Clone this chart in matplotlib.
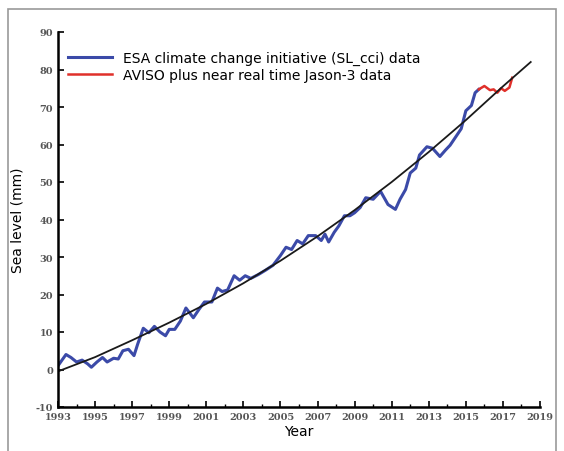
import matplotlib.pyplot as plt
from matplotlib.patches import Rectangle

plt.rcParams["axes.unicode_minus"] = False

esa_years = [1993.0, 1993.43, 1993.7, 1994.0, 1994.3, 1994.6, 1994.8, 1995.1, 1995.4, 1995.65,
             1996.0, 1996.25, 1996.5, 1996.8, 1997.1, 1997.3, 1997.6, 1997.9, 1998.2, 1998.5,
             1998.8, 1999.0, 1999.3, 1999.6, 1999.9, 2000.3, 2000.6, 2000.9, 2001.3, 2001.6,
             2001.85, 2002.15, 2002.5, 2002.8, 2003.1, 2003.4, 2003.8, 2004.2, 2004.6, 2005.0,
             2005.3, 2005.6, 2005.9, 2006.2, 2006.5, 2006.9, 2007.2, 2007.4, 2007.6, 2007.9,
             2008.15, 2008.45, 2008.75, 2009.0, 2009.3, 2009.6, 2010.0, 2010.4, 2010.8, 2011.2,
             2011.45, 2011.75, 2012.0, 2012.3, 2012.5, 2012.9, 2013.2, 2013.6, 2013.9, 2014.15,
             2014.45, 2014.75, 2015.0, 2015.3, 2015.5, 2015.7]
esa_level = [1, 4, 3.2, 2, 2.5, 1.5, 0.6, 2, 3.2, 2,
             3, 2.8, 5, 5.4, 3.7, 6.8, 11, 9.8, 11.5, 10,
             9, 10.7, 10.7, 12.9, 16.4, 13.8, 16, 18, 18, 21.7,
             20.8, 21.2, 25, 23.8, 25, 24.3, 25.3, 26.5, 27.8, 30.4,
             32.6, 32, 34.4, 33.5, 35.7, 35.7, 34.4, 36.1, 34, 36.6,
             38.3, 41, 41, 41.8, 43.2, 45.8, 45.4, 47.5, 44, 42.7,
             45.4, 48, 52.4, 53.7, 57.2, 59.4, 59, 56.8, 58.5, 59.8,
             62, 64.2, 69, 70.4, 73.8, 74.7]

aviso_years = [2015.7, 2016.0, 2016.3, 2016.5, 2016.7, 2016.9, 2017.1, 2017.35, 2017.5]
aviso_level = [74.7, 75.6, 74.5, 74.7, 73.8, 75.0, 74.3, 75.2, 77.8]

fit_years = [1993, 1995, 1997, 1999, 2001, 2003, 2005, 2007, 2009, 2011, 2013, 2015, 2017, 2018.5]
fit_level = [-0.5, 3.3, 7.8, 12.5, 17.5, 23, 29, 35.5, 42.5, 50, 58, 66.5, 75.5, 82]

fig = plt.figure(figsize=(5.64, 4.52), dpi=100)
fig.patches.append(Rectangle((8 / 564, -0.05), 548 / 564, 1.05 - 10 / 452, transform=fig.transFigure,
                             fill=False, edgecolor="#999999", linewidth=1.2))
ax = fig.add_axes([58 / 564, 44 / 452, 482 / 564, 375 / 452])

ax.plot(esa_years, esa_level, color="#3b4aa8", linewidth=2.2, label="ESA climate change initiative (SL_cci) data")
ax.plot(aviso_years, aviso_level, color="#e0302a", linewidth=1.8, label="AVISO plus near real time Jason-3 data")
ax.plot(fit_years, fit_level, color="#1a1a1a", linewidth=1.3)

ax.set_xlim(1993, 2019)
ax.set_ylim(-10, 90)
ax.set_xticks(range(1993, 2020, 2))
ax.set_xticks(range(1993, 2020), minor=True)
ax.set_yticks(range(-10, 91, 10))
ax.tick_params(direction="in", labelsize=7, labelcolor="#555555", width=1.2, length=4)
ax.tick_params(which="minor", direction="in", width=1, length=2)
for lbl in ax.get_xticklabels() + ax.get_yticklabels():
    lbl.set_family("DejaVu Serif")
    lbl.set_fontweight("bold")
for s in ["top", "right"]:
    ax.spines[s].set_visible(False)
for s in ["left", "bottom"]:
    ax.spines[s].set_linewidth(1.8)

ax.set_xlabel("Year", fontsize=10, labelpad=2)
ax.set_ylabel("Sea level (mm)", fontsize=10, labelpad=8)
ax.legend(loc="upper left", frameon=False, fontsize=10, handlelength=3.2, borderaxespad=0.3,
          labelspacing=0.2, bbox_to_anchor=(0.0, 0.975))

fig.savefig("out.png", dpi=100)
